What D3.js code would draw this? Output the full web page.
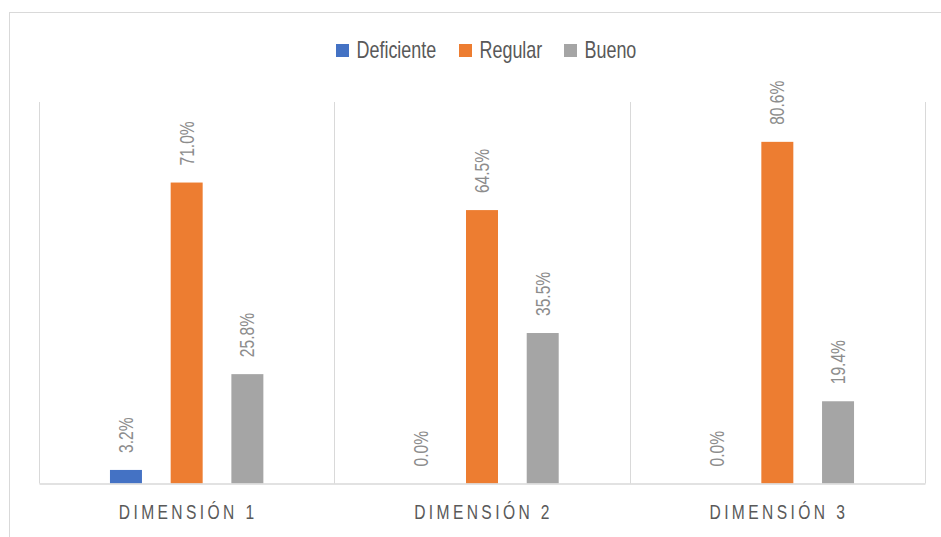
<!DOCTYPE html>
<html>
<head>
<meta charset="utf-8">
<script src="https://cdn.jsdelivr.net/npm/d3@7"></script>
<style>
  html, body { margin: 0; padding: 0; background: #fff; }
  svg { display: block; }
  text { font-family: "Liberation Sans", Arial, sans-serif; }
</style>
</head>
<body>
<svg id="chart" width="941" height="537"></svg>
<script>
const categories = ["DIMENSIÓN 1", "DIMENSIÓN 2", "DIMENSIÓN 3"];
const seriesNames = ["Deficiente", "Regular", "Bueno"];
const deficiente = [0.032, 0.0, 0.0];
const regular = [0.710, 0.645, 0.806];
const bueno = [0.258, 0.355, 0.194];
const colors = ["#4472C4", "#ED7D31", "#A5A5A5"];
const yMax = 0.9;

const condense = 0.78; // narrow-font emulation

const seriesValues = [deficiente, regular, bueno];
const data = categories.map((c, i) => ({
  cat: c,
  vals: seriesNames.map((s, j) => ({ s, j, v: seriesValues[j][i] }))
}));

const svg = d3.select("#chart");
const plot = { left: 39, right: 925, top: 102, bottom: 483.5 };

// outer border
svg.append("rect").attr("x", 9.5).attr("y", 12.5).attr("width", 940).attr("height", 540)
  .attr("fill", "none").attr("stroke", "#D9D9D9").attr("stroke-width", 1);

const x0 = d3.scaleBand().domain(categories).range([plot.left, plot.right]).paddingInner(0).paddingOuter(0);
const x1 = d3.scaleBand().domain(seriesNames).range([0, x0.bandwidth()]).paddingInner(0.473).paddingOuter(1.169);
const y = d3.scaleLinear().domain([0, yMax]).range([plot.bottom, plot.top]);

// category separators
const seps = categories.map(c => x0(c)).concat([plot.right]);
svg.append("g").selectAll("line").data(seps).join("line")
  .attr("x1", d => Math.round(d) + 0.5).attr("x2", d => Math.round(d) + 0.5)
  .attr("y1", y(yMax)).attr("y2", y(0))
  .attr("stroke", "#D9D9D9").attr("stroke-width", 1);

// bars
const groups = svg.append("g").selectAll("g").data(data).join("g")
  .attr("transform", d => `translate(${x0(d.cat)},0)`);

groups.selectAll("rect").data(d => d.vals).join("rect")
  .attr("x", d => x1(d.s))
  .attr("width", x1.bandwidth())
  .attr("y", d => y(d.v))
  .attr("height", d => y(0) - y(d.v))
  .attr("fill", d => colors[d.j]);

// value labels
groups.selectAll("text").data(d => d.vals).join("text")
  .attr("transform", d => `translate(${x1(d.s) + x1.bandwidth() / 2 + 7},${y(d.v) - 17}) rotate(-90) scale(${condense},1)`)
  .attr("text-anchor", "start")
  .attr("font-size", 20)
  .attr("fill", "#8C8C8C")
  .text(d => (d.v * 100).toFixed(1) + "%");

// baseline axis
const xAxis = d3.axisBottom(x0).tickSize(0).tickPadding(0);
const ax = svg.append("g").attr("transform", `translate(0,${y(0)})`).call(xAxis);
ax.select(".domain").attr("stroke", "#D9D9D9").attr("stroke-width", 1.5);
ax.selectAll(".tick text")
  .attr("y", 0).attr("dy", 0)
  .attr("transform", `translate(1.5,35) scale(${condense},1)`)
  .attr("font-size", 20)
  .attr("letter-spacing", (3.4 / condense) + "px")
  .attr("fill", "#595959")
  .style("font-family", '"Liberation Sans", Arial, sans-serif');

// legend
const legendX = [336, 459, 564];
const leg = svg.append("g").selectAll("g").data(seriesNames).join("g")
  .attr("transform", (d, i) => `translate(${legendX[i]},44)`);
leg.append("rect").attr("width", 13).attr("height", 13).attr("fill", (d, i) => colors[i]);
leg.append("text").attr("transform", `translate(20.5,14) scale(${condense},1)`)
  .attr("font-size", 23).attr("fill", "#595959").text(d => d);
</script>
</body>
</html>
